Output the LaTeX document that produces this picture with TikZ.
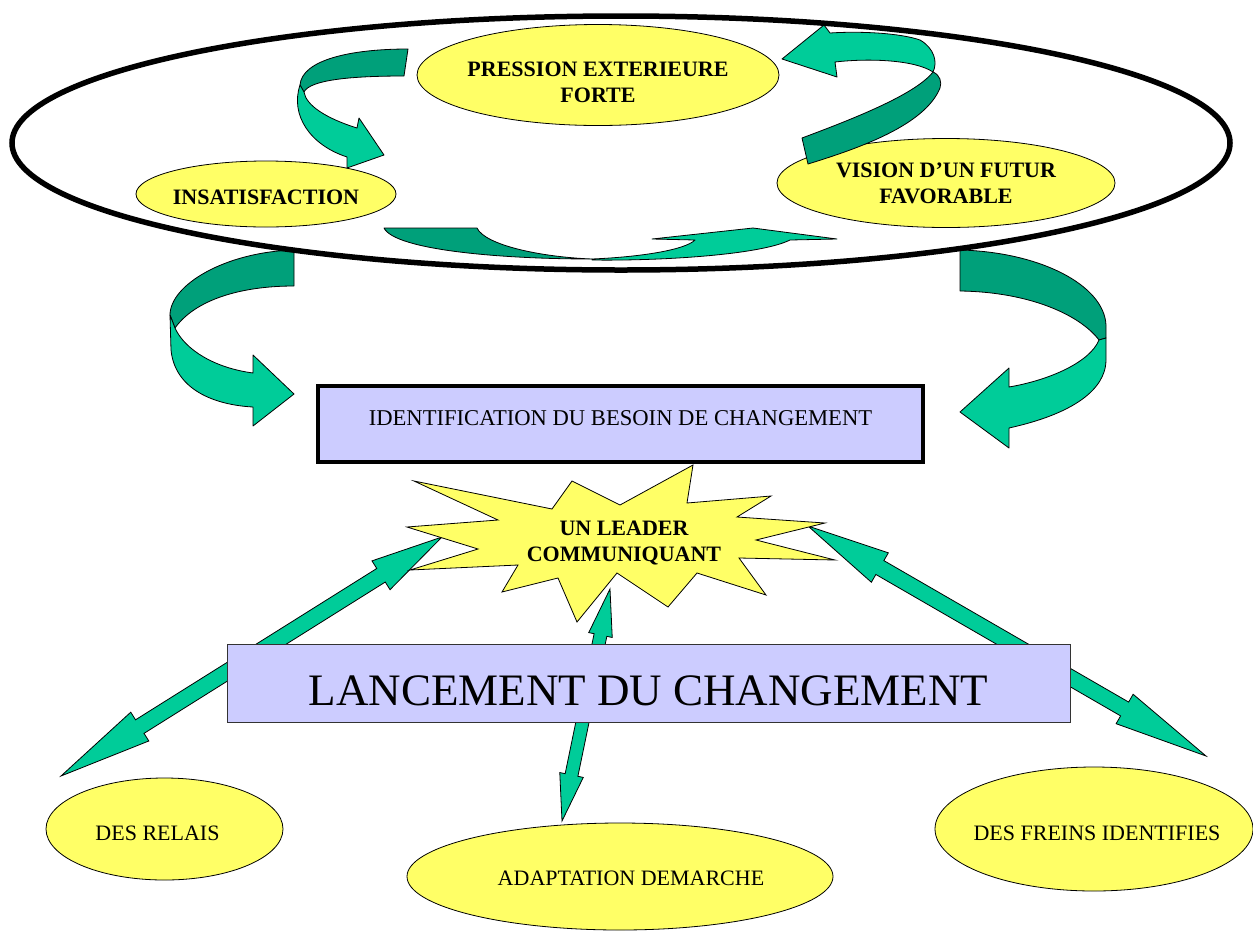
\documentclass[tikz,border=0pt]{standalone}
\usepackage{fontspec}
\setmainfont{Liberation Serif}
\usepackage{tikz}
\usetikzlibrary{calc,shapes.geometric}
\definecolor{vertclair}{RGB}{0,204,153}
\definecolor{vertfonce}{RGB}{0,160,122}
\definecolor{jaune}{RGB}{255,255,102}
\definecolor{lavande}{RGB}{204,204,255}

% double arrow: tip a, tip b, head length at a, head length at b, head half width, shaft half width
\newcommand{\flechedouble}[6]{%
  \filldraw[fleche] (#1)
    -- ($(#1)!#3!(#2)!#5!90:(#2)$)
    -- ($(#1)!#3!(#2)!#6!90:(#2)$)
    -- ($(#2)!#4!(#1)!#6!270:(#1)$)
    -- ($(#2)!#4!(#1)!#5!270:(#1)$)
    -- (#2)
    -- ($(#2)!#4!(#1)!#5!90:(#1)$)
    -- ($(#2)!#4!(#1)!#6!90:(#1)$)
    -- ($(#1)!#3!(#2)!#6!270:(#2)$)
    -- ($(#1)!#3!(#2)!#5!270:(#2)$)
    -- cycle;}

\begin{document}
\begin{tikzpicture}[x=1pt,y=-1pt,
  bulle/.style={ellipse,draw=black,fill=jaune,line width=0.8pt,inner sep=0pt},
  gras/.style={font=\fontsize{22}{26}\selectfont\bfseries,align=center},
  txt/.style={font=\fontsize{22}{26}\selectfont,align=center},
  fleche/.style={fill=vertclair,draw=black,line width=0.8pt},
  ruban/.style={draw=black,line width=0.8pt,line join=round},
  etoile/.style={fill=jaune,draw=black,line width=0.8pt}]
\useasboundingbox (0,0) rectangle (1253,930);

% le cycle du haut
\node[bulle,minimum width=362,minimum height=101,
  label={[gras,yshift=-7pt]center:{PRESSION EXTERIEURE\\FORTE}}] (pression) at (598,75) {};
\node[bulle,minimum width=260,minimum height=66,
  label={[gras,yshift=-3pt]center:INSATISFACTION}] (insat) at (266,194) {};
\node[bulle,minimum width=338,minimum height=89,
  label={[gras]center:{VISION D'UN FUTUR\\FAVORABLE}}] (vision) at (946,183) {};

\filldraw[ruban,fill=vertfonce] (408,49) .. controls (350,49) and (302,60) .. (300,85) -- (304,92) .. controls (310,80) and (350,76) .. (404,76) -- cycle;
\filldraw[ruban,fill=vertclair] (300,85) .. controls (290,115) and (310,145) .. (347,157) -- (347,168) -- (384,155) -- (359,118) -- (357,128) .. controls (325,118) and (306,105) .. (304,92) -- cycle;

\filldraw[ruban,fill=vertclair] (824,25) -- (782,59) -- (837,77) -- (835,62) .. controls (870,58) and (915,60) .. (933,72) .. controls (938,62) and (934,48) .. (920,40) .. controls (900,33) and (860,31) .. (830,33) -- cycle;
\filldraw[ruban,fill=vertfonce] (802,138) .. controls (850,120) and (915,95) .. (933,72) .. controls (940,75) and (942,82) .. (940,88) .. controls (925,125) and (860,148) .. (808,164) -- cycle;

\filldraw[ruban,fill=vertfonce] (384,228) -- (477,228) .. controls (485,245) and (540,257) .. (592,259) .. controls (500,259) and (395,250) .. (384,228) -- cycle;
\filldraw[ruban,fill=vertclair] (592,259) .. controls (640,257) and (685,250) .. (695,240) -- (652,239) -- (753,228) -- (837,239) -- (790,240) .. controls (760,255) and (660,261) .. (592,260) -- cycle;

% les deux grandes fleches vers le besoin
\filldraw[ruban,fill=vertfonce] (294,250) .. controls (225,252) and (170,285) .. (170,315) -- (175,328) .. controls (195,300) and (240,286) .. (294,286) -- cycle;
\filldraw[ruban,fill=vertclair] (170,315) -- (171,350) .. controls (175,390) and (215,405) .. (253,407) -- (253,426) -- (294,394) -- (253,355) -- (253,373) .. controls (215,368) and (185,350) .. (175,328) -- cycle;

\filldraw[ruban,fill=vertfonce] (960,250) .. controls (1040,252) and (1104,285) .. (1106,325) -- (1106,338) -- (1099,340) .. controls (1080,315) and (1030,292) .. (960,291) -- cycle;
\filldraw[ruban,fill=vertclair] (1106,338) -- (1106,360) .. controls (1106,380) and (1090,410) .. (1009,428) -- (1009,448) -- (960,412) -- (1009,368) -- (1009,387) .. controls (1050,380) and (1090,362) .. (1099,340) -- cycle;

\node[ellipse,draw=black,line width=5.5pt,minimum width=1218,minimum height=254] (boucle) at (621,143) {};

% le bas
\coordinate (leaderG) at (442,537);
\coordinate (relaisP) at (61,776);
\coordinate (leaderB) at (610,589);
\coordinate (adaptP) at (562,821);
\coordinate (leaderD) at (808,526);
\coordinate (freinsP) at (1206,756);
\flechedouble{leaderG}{relaisP}{72pt}{93pt}{17pt}{8pt}
\flechedouble{leaderB}{adaptP}{47pt}{47pt}{12pt}{6.5pt}
\flechedouble{leaderD}{freinsP}{83pt}{94pt}{17pt}{8pt}

\filldraw[etoile] (693,465) -- (687,503) -- (771,496) -- (737,517) -- (825,523) -- (756,540) -- (835,560) -- (739,558) -- (766,595) -- (697,573) -- (668,607) -- (617,573) -- (577,622) -- (558,578) -- (502,592) -- (518,565) -- (410,570) -- (478,549) -- (407,527) -- (498,520) -- (414,481) -- (552,509) -- (572,481) -- (620,505) -- cycle;
\node[gras] (leader) at (624,543) {UN LEADER\\COMMUNIQUANT};

\node[txt,font=\fontsize{22.6}{26}\selectfont,draw=black,line width=4pt,fill=lavande,minimum width=605,minimum height=76,
  text height=15pt,text depth=12pt] (besoin) at (620.5,424) {IDENTIFICATION DU BESOIN DE CHANGEMENT};
\node[draw=black!80,line width=1pt,fill=lavande,minimum width=843,minimum height=78,
  font=\fontsize{45}{50}\selectfont,text height=44.5pt,text depth=0pt] (lancement) at (648.5,683) {LANCEMENT DU CHANGEMENT};

\node[bulle,minimum width=237,minimum height=102,
  label={[txt,xshift=-7pt,yshift=-4pt]center:DES RELAIS}] (relais) at (164.5,829) {};
\node[bulle,minimum width=426,minimum height=107,
  label={[txt,xshift=11pt,yshift=-2pt]center:ADAPTATION DEMARCHE}] (adapt) at (620,876.5) {};
\node[bulle,minimum width=318,minimum height=124,
  label={[txt,xshift=3pt,yshift=-4pt]center:DES FREINS IDENTIFIES}] (freins) at (1094,829) {};
\end{tikzpicture}
\end{document}
